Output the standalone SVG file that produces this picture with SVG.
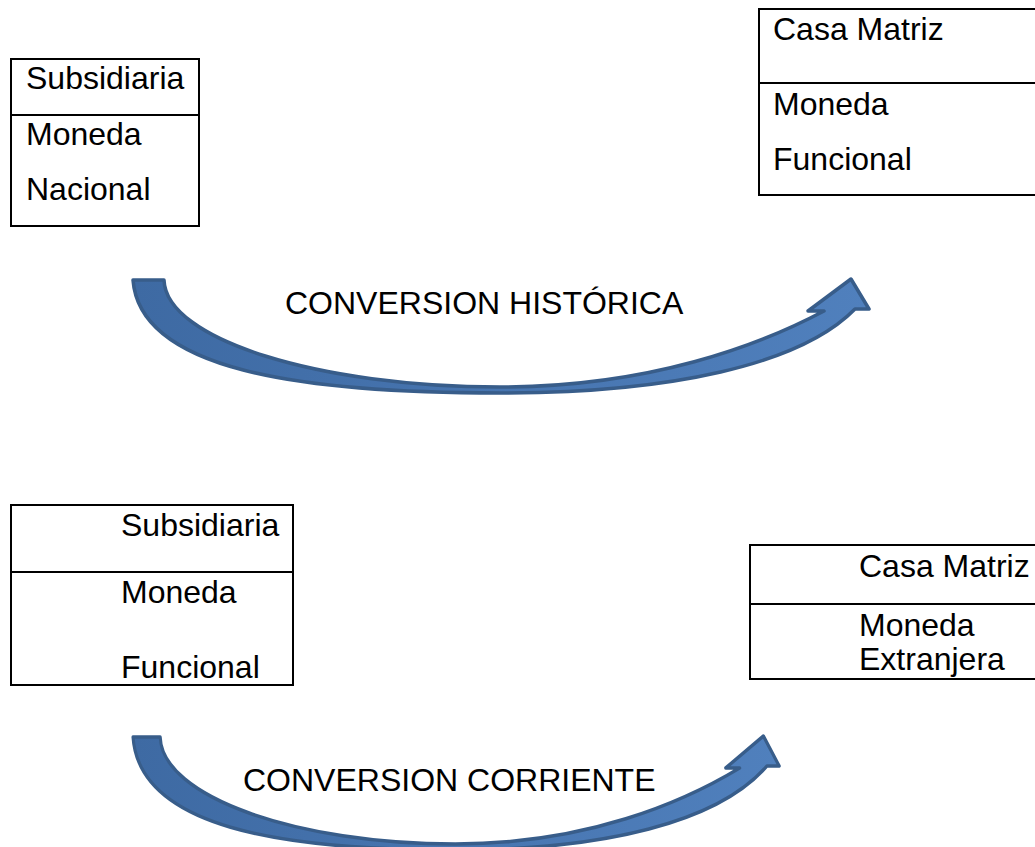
<svg xmlns="http://www.w3.org/2000/svg" width="1035" height="847" viewBox="0 0 1035 847">
<style>
.box{fill:#fff;stroke:#000;stroke-width:2}
.div{stroke:#000;stroke-width:2}
.t{font-family:"Liberation Sans",Arial,sans-serif;font-size:32px;fill:#000}
.arr{fill:url(#g);stroke:#385d8a;stroke-width:3.5;stroke-linejoin:round}
</style>
<defs>
<linearGradient id="g" x1="0" y1="0" x2="1" y2="0">
<stop offset="0" stop-color="#3e6aa3"/>
<stop offset="1" stop-color="#5080bd"/>
</linearGradient>
<path id="arrowShape" d="M133,280 L164,280 C166,340 320,387 500,387 C650,387 760,345 824,311 L808,311 L851,279 L869,309 L855,309 C800,365 670,393 500,393 C300,393 140,370 133,280 Z"/>
</defs>
<g id="node-subsidiaria-1">
<rect class="box" x="11" y="59" width="188" height="167"/>
<line class="div" x1="11" y1="115" x2="199" y2="115"/>
<text class="t" x="26" y="89">Subsidiaria</text>
<text class="t" x="26" y="145">Moneda</text>
<text class="t" x="26" y="200">Nacional</text>
</g>
<g id="node-casa-matriz-1">
<rect class="box" x="759" y="9" width="300" height="186"/>
<line class="div" x1="759" y1="83" x2="1040" y2="83"/>
<text class="t" x="773" y="40">Casa Matriz</text>
<text class="t" x="773" y="115">Moneda</text>
<text class="t" x="773" y="170">Funcional</text>
</g>
<g id="node-subsidiaria-2">
<rect class="box" x="11" y="505" width="282" height="180"/>
<line class="div" x1="11" y1="572" x2="293" y2="572"/>
<text class="t" x="121" y="536">Subsidiaria</text>
<text class="t" x="121" y="603">Moneda</text>
<text class="t" x="121" y="678">Funcional</text>
</g>
<g id="node-casa-matriz-2">
<rect class="box" x="750" y="545" width="300" height="134"/>
<line class="div" x1="750" y1="604" x2="1040" y2="604"/>
<text class="t" x="859" y="577">Casa Matriz</text>
<text class="t" x="859" y="636">Moneda</text>
<text class="t" x="859" y="670">Extranjera</text>
</g>
<g id="connectors">
<g id="arrow-historica">
<use href="#arrowShape" class="arr"/>
<text class="t" x="285" y="314">CONVERSION HISTÓRICA</text>
</g>
<g id="arrow-corriente">
<g transform="translate(133,457) scale(0.878,1) translate(-133,0)">
<use href="#arrowShape" class="arr" vector-effect="non-scaling-stroke"/>
</g>
<text class="t" x="243" y="791">CONVERSION CORRIENTE</text>
</g>
</g>
</svg>
